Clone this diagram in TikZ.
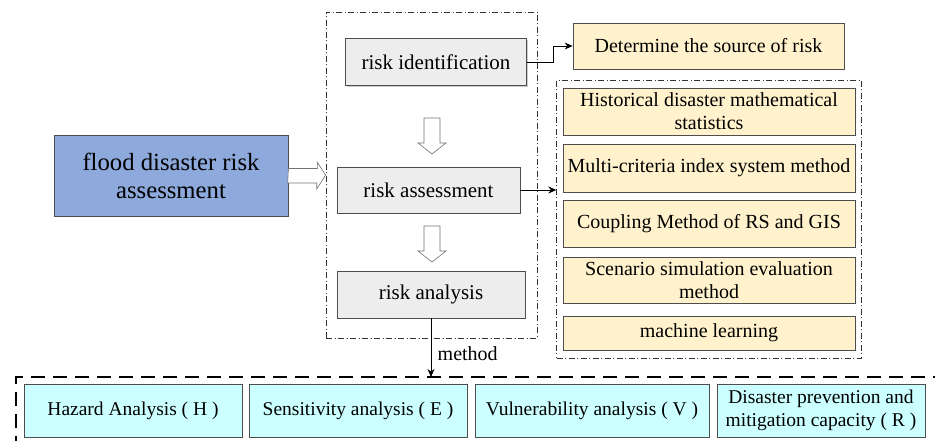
\documentclass[tikz,border=0pt]{standalone}
\usepackage{fontspec}
\setmainfont{Liberation Serif}
\usetikzlibrary{positioning,calc,fit,shadows,arrows.meta}

\definecolor{flblue}{HTML}{8EA9DB}
\definecolor{stepgray}{HTML}{EDEDED}
\definecolor{methyellow}{HTML}{FFF2CC}
\definecolor{factcyan}{HTML}{CCFFFF}
\definecolor{boxline}{HTML}{4D4D4D}

\tikzset{
  box/.style={draw=boxline, line width=0.8pt, align=center, inner sep=0pt,
    drop shadow={shadow xshift=1.3pt, shadow yshift=-1.3pt, fill=black!40}},
  stepbox/.style={box, fill=stepgray, minimum height=47pt, font=\fontsize{21}{24}\selectfont},
  methodbox/.style={box, fill=methyellow, minimum width=292pt, font=\fontsize{20}{23}\selectfont},
  factorbox/.style={box, fill=factcyan, minimum height=53pt, font=\fontsize{19.5}{23}\selectfont},
  groupbox/.style={draw=black!80, line width=0.6pt, dash pattern=on 6pt off 2.5pt on 1pt off 2.5pt},
  hollow/.style={draw=gray!90!black, fill=white, line width=0.6pt},
  link/.style={->, line width=0.8pt},
}

\begin{document}
\begin{tikzpicture}[x=1pt, y=-1pt, >={Stealth[length=8pt,width=7pt]}]
        \useasboundingbox (0,0) rectangle (935,441);
        % steps of the assessment
        \node[groupbox, minimum width=211pt, minimum height=326pt] (steps) at (431.5,175) {};
        \node[stepbox, minimum width=181pt] (rid) at (436,62) {risk identification};
        \node[stepbox, minimum width=183pt, minimum height=46pt] (rass) at (428.5,190) {risk assessment};
        \node[stepbox, minimum width=188pt] (rana) at (431,294.5) {risk analysis};

        \node[box, fill=flblue, minimum width=234pt, minimum height=81pt,
              font=\fontsize{24.7}{28}\selectfont] (flood) at (171,175.5)
              {flood disaster risk\\assessment};

        % methods
        \node[methodbox, minimum width=271pt, minimum height=46pt] (det) at (708.5,46) {Determine the source of risk};
        \node[methodbox, minimum height=47pt] (hist) at (709,111.5) {Historical disaster mathematical\\statistics};
        \node[methodbox, minimum height=48pt] (multi) at (709,168) {Multi-criteria index system method};
        \node[methodbox, minimum height=47pt] (coup) at (709,223.5) {Coupling Method of RS and GIS};
        \node[methodbox, minimum height=46pt] (scen) at (709,280) {Scenario simulation evaluation\\method};
        \node[methodbox, minimum height=34pt] (mach) at (709,333) {machine learning};
        \node[groupbox, fit=(hist)(mach), inner xsep=6pt, inner ysep=7.5pt] (methods) {};

        % factors
        \coordinate (ftop) at (16,377);
        \draw[line width=1.5pt, dash pattern=on 14pt off 8pt] (16,450) -- (ftop) -- (945,377);
        \node[factorbox, minimum width=218pt] (haz) at (133,410.5) {Hazard Analysis ( H )};
        \node[factorbox, minimum width=218pt] (sen) at (358,410.5) {Sensitivity analysis ( E )};
        \node[factorbox, minimum width=234pt] (vul) at (592,410.5) {Vulnerability analysis ( V )};
        \node[factorbox, minimum width=208pt] (dis) at (821,410.5) {Disaster prevention and\\mitigation capacity ( R )};

        % hollow arrows
        \draw[hollow] (flood.east) ++(0,-7) -- ++(29,0) -- ++(0,-6) -- (steps.west) -- ++(-9,14)
          -- ++(0,-6) -- ++(-29,0) -- cycle;
        \coordinate (a1) at (432,118);
        \coordinate (a2) at (432,226);
        \foreach \a in {a1,a2}
          \draw[hollow] (\a) ++(-8,0) -- ++(16,0) -- ++(0,25) -- ++(6,0) -- ++(-14,11)
            -- ++(-14,-11) -- ++(6,0) -- cycle;

        % connectors
        \draw[link] (rid.east) -- ++(26,0) |- (det.west);
        \draw[link] (rass.east) -- (rass.east -| methods.west);
        \draw[link] (rana.south) -- (rana.south |- ftop)
          node[pos=0.6, right=3pt, font=\fontsize{20}{23}\selectfont] (meth) {method};
    \end{tikzpicture}
\end{document}
